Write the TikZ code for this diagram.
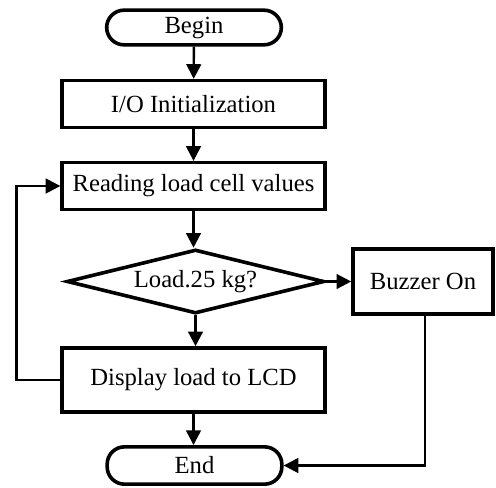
\documentclass[tikz,border=0pt]{standalone}
\usepackage{fontspec}
\setmainfont{Liberation Serif}
\usepackage{tikz}
\usetikzlibrary{arrows.meta,shapes.geometric,shadows,calc}

\tikzset{
  every node/.style={font=\fontsize{18.5}{22}\selectfont, inner sep=0pt},
  block/.style={draw, line width=2.7pt, fill=white, rectangle,
    drop shadow={fill=blue!10, shadow xshift=1.2pt, shadow yshift=-1.2pt, opacity=.6}},
  terminal/.style={block, rounded corners=13pt},
  decision/.style={block, diamond, aspect=4},
  flow/.style={line width=1.8pt, -{Triangle[length=11pt,width=11pt]}},
}

\begin{document}
\begin{tikzpicture}[x=0.75pt,y=-0.75pt,line join=miter]
\useasboundingbox (0,0) rectangle (496,487);
% main column
\node[terminal, minimum width=131pt, minimum height=26pt] (begin) at (194,27.5) {Begin};
\node[block, minimum width=197pt, minimum height=35pt] (init) at (193.5,104) {I/O Initialization};
\node[block, minimum width=197pt, minimum height=35pt] (read) at (193.5,186) {Reading load cell values};
\node[decision, minimum width=193pt, minimum height=48pt] (check) at (195.5,281.5) {Load.25 kg?};
\node[block, minimum width=105pt, minimum height=49pt] (buzzer) at (423,281.5) {Buzzer On};
\node[block, minimum width=197pt, minimum height=48pt] (display) at (193.5,380) {Display load to LCD};
\node[terminal, minimum width=131pt, minimum height=28pt] (end) at (194.5,465.5) {End};

\draw[flow] (begin) -- (init);
\draw[flow] (init) -- (read);
\draw[flow] (read) -- (read |- check.north);
\draw[flow] (check) -- (buzzer);
\draw[flow] (check.south) -- (check.south |- display.north);
\draw[flow] (display.south) -- (display.south |- end.north);
%\draw[flow] (buzzer) |- (end);
\draw[flow] ($(buzzer.south)+(2,0)$) |- (end.east);
\draw[flow] (display.west) -- ++(-44,0) |- (read.west);
\end{tikzpicture}
\end{document}
